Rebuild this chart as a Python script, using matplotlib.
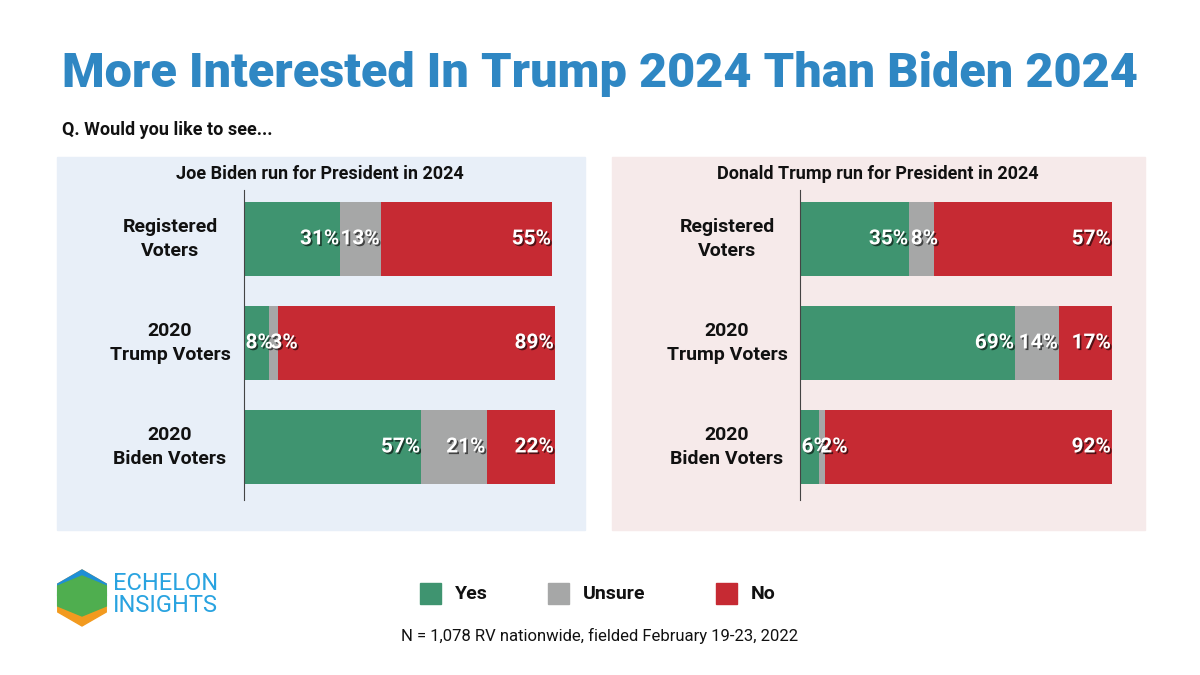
import numpy as np
import matplotlib
matplotlib.use("Agg")
import matplotlib.pyplot as plt
import matplotlib.patheffects as pe
from matplotlib.patches import Rectangle, Polygon

# Datos
grupos = ["Registered\nVoters", "2020\nTrump Voters", "2020\nBiden Voters"]
biden_si = [31, 8, 57]
biden_nose = [13, 3, 21]
biden_no = [55, 89, 22]
trump_si = [35, 69, 6]
trump_nose = [8, 14, 2]
trump_no = [57, 17, 92]
series = ["Yes", "Unsure", "No"]
paneles = ["Joe Biden run for President in 2024", "Donald Trump run for President in 2024"]

colores = ["#3f9470", "#a6a7a7", "#c62a33"]
azul = "#2f87c3"
W, H = 1200, 675

plt.rcParams['font.family'] = ['Roboto', 'DejaVu Sans']
fig = plt.figure(figsize=(12, 6.75), dpi=100)
rend = fig.canvas.get_renderer()

def fx(px):
    return px / W

def fy(py):
    return 1 - py / H

# Titulo y pregunta
fig.text(fx(62), fy(74), "More Interested In Trump 2024 Than Biden 2024",
         fontsize=35, fontweight="heavy", color=azul, va="center", ha="left")
fig.text(fx(62), fy(130), "Q. Would you like to see...", fontsize=13,
         fontweight="bold", color="#111111", va="center")

# Fondos de paneles
fondos = [(57, 585, "#e8eff8"), (612, 1145, "#f6eaea")]
for x0, x1, c in fondos:
    fig.patches.append(Rectangle((fx(x0), fy(530)), fx(x1 - x0), (530 - 157) / H,
                                 transform=fig.transFigure, color=c, zorder=-5))

datos = [(biden_si, biden_nose, biden_no), (trump_si, trump_nose, trump_no)]
ejes_x = [(244, 555, 170, 320), (800, 1112, 727, 878)]
sombra = [pe.withSimplePatchShadow(offset=(1.2, -1.2), shadow_rgbFace="black", alpha=0.6)]

for (vals, (x0, x1, xl, xt), titulo) in zip(datos, ejes_x, paneles):
    ax = fig.add_axes([fx(x0), fy(500), fx(x1 - x0), (500 - 190) / H])
    ax.patch.set_alpha(0)
    ax.set_xlim(0, 100)
    ax.set_ylim(2.51, -0.47)
    y = np.arange(len(grupos))
    izq = np.zeros(len(grupos))
    for v, c in zip(vals, colores):
        v = np.array(v)
        ax.barh(y, v, left=izq, height=0.71, color=c, zorder=2)
        for yi, l, w in zip(y, izq, v):
            t = ax.text(l + w - 0.3, yi, f"{w}%", ha="right", va="center", color="white",
                        fontsize=15, fontweight="bold", path_effects=sombra, zorder=3)
            # si la etiqueta no cabe, se alinea al inicio del segmento
            ancho = t.get_window_extent(renderer=rend).width
            seg = w / 100 * (x1 - x0)
            if ancho > seg:
                t.set_ha("left")
                t.set_x(l + 0.5)
        izq = izq + v
    for s in ["top", "right", "bottom"]:
        ax.spines[s].set_visible(False)
    ax.spines["left"].set_color("#444444")
    ax.set_xticks([])
    ax.set_yticks([])
    xg = -100 * (x0 - xl) / (x1 - x0)
    for yi, g in zip(y, grupos):
        ax.text(xg, yi, g, ha="center", va="center",
                fontsize=14, fontweight="bold", color="#111111", linespacing=1.4)
    fig.text(fx(xt), fy(174), titulo, ha="center", va="center", fontsize=13,
             fontweight="bold", color="#111111")

# Leyenda
for (xs, xt), nombre, c in zip([(420, 455), (548, 583), (716, 751)], series, colores):
    fig.patches.append(Rectangle((fx(xs), fy(604)), fx(21), 21 / H,
                                 transform=fig.transFigure, color=c))
    fig.text(fx(xt), fy(594), nombre, fontsize=14, fontweight="bold",
             color="#111111", va="center")

fig.text(fx(600), fy(636), "N = 1,078 RV nationwide, fielded February 19-23, 2022",
         ha="center", va="center", fontsize=12, color="#111111")

# Logo aproximado
cx, cy, r = 82, 598, 28
ang = np.radians(np.arange(90, 450, 60))
hexa = [(fx(cx + r * np.cos(a)), fy(cy - r * np.sin(a))) for a in ang]
fig.patches.append(Polygon(hexa, closed=True, transform=fig.transFigure, color="#f29a1f"))
fig.patches.append(Polygon([hexa[5], hexa[0], hexa[1], (fx(cx - r * 0.87), fy(cy - 2)),
                            (fx(cx + r * 0.87), fy(cy - 2))], closed=True,
                           transform=fig.transFigure, color="#1e8fd6"))
fig.patches.append(Polygon([(fx(cx - r * 0.87), fy(cy - 12)), (fx(cx), fy(cy - 22)),
                            (fx(cx + r * 0.87), fy(cy - 12)), (fx(cx + r * 0.87), fy(cy + 8)),
                            (fx(cx), fy(cy + 18)), (fx(cx - r * 0.87), fy(cy + 8))],
                           closed=True, transform=fig.transFigure, color="#4fae4f"))
fig.text(fx(113), fy(584), "ECHELON", fontsize=17, color="#29a3e0", va="center")
fig.text(fx(113), fy(606), "INSIGHTS", fontsize=17, color="#29a3e0", va="center")

fig.savefig("out.png", dpi=100, facecolor="white")
